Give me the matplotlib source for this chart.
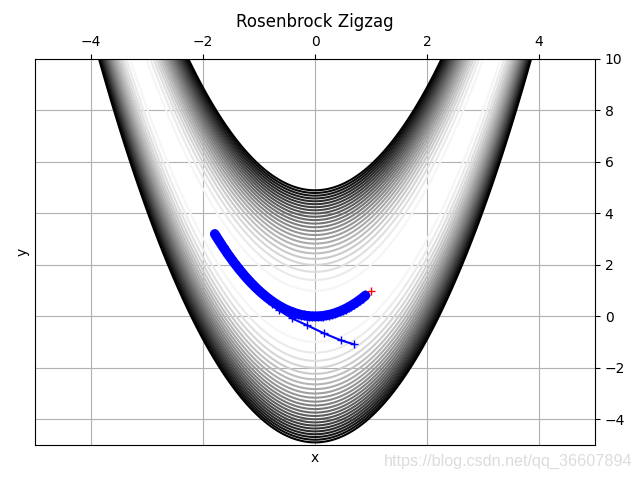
import numpy as np
import matplotlib
matplotlib.use("Agg")
import matplotlib.pyplot as plt

# Contour levels of the Rosenbrock function
levels = np.arange(0, 2500, 100)

# Sparse start of the path
path_start_x = [0.70, 0.46, 0.16, -0.14, -0.41, -0.64, -0.77]
path_start_y = [-1.09, -0.93, -0.66, -0.35, -0.08, 0.23, 0.47]

# Dense zigzag band along the valley
band_x = [-1.79, -1.75, -1.70, -1.65, -1.60, -1.55, -1.50, -1.45, -1.40, -1.35,
          -1.30, -1.25, -1.20, -1.15, -1.10, -1.05, -1.00, -0.95, -0.90, -0.85,
          -0.80, -0.75, -0.70, -0.65, -0.60, -0.55, -0.50, -0.45, -0.40, -0.35,
          -0.30, -0.25, -0.20, -0.15, -0.10, -0.05, 0.00, 0.05, 0.10, 0.15,
          0.20, 0.25, 0.30, 0.35, 0.40, 0.45, 0.50, 0.55, 0.60, 0.65,
          0.70, 0.75, 0.80, 0.85, 0.90]
band_y = [3.20, 3.06, 2.89, 2.72, 2.56, 2.40, 2.25, 2.10, 1.96, 1.82,
          1.69, 1.56, 1.44, 1.32, 1.21, 1.10, 1.00, 0.90, 0.81, 0.72,
          0.64, 0.56, 0.49, 0.42, 0.36, 0.30, 0.25, 0.20, 0.16, 0.12,
          0.09, 0.06, 0.04, 0.02, 0.01, 0.00, 0.00, 0.00, 0.01, 0.02,
          0.04, 0.06, 0.09, 0.12, 0.16, 0.20, 0.25, 0.30, 0.36, 0.42,
          0.49, 0.56, 0.64, 0.72, 0.81]

minimum_x = [1.0]
minimum_y = [1.0]

fig = plt.figure(figsize=(6.4, 4.8), dpi=100)
ax = fig.add_axes([35/640, 1-445/480, 560/640, 386/480])

xs = np.linspace(-5, 5, 800)
ys = np.linspace(-5, 10, 1200)
X, Y = np.meshgrid(xs, ys)
Z = (1 - X)**2 + 100 * (Y - X**2)**2
ax.contour(X, Y, Z, levels=levels, cmap='gray_r')

ax.plot(path_start_x, path_start_y, 'b+-')
ax.plot(band_x, band_y, 'b-', linewidth=7, solid_capstyle='round')
ax.plot(band_x, band_y, 'b+', markersize=7)
ax.plot(minimum_x, minimum_y, 'r+')

ax.set_xlim(-5, 5)
ax.set_ylim(-5, 10)
ax.xaxis.tick_top()
ax.yaxis.tick_right()
ax.set_xticks([-4, -2, 0, 2, 4])
ax.set_yticks([-4, -2, 0, 2, 4, 6, 8, 10])
ax.grid(True)
ax.set_xlabel('x')
ax.set_ylabel('y')
ax.set_title('Rosenbrock Zigzag')

fig.text(0.988, 0.022, 'https://blog.csdn.net/qq_36607894', ha='right', va='bottom',
         color='#dcdcdc', fontsize=11.6, family='Liberation Sans')

fig.savefig('out.png', dpi=100)
